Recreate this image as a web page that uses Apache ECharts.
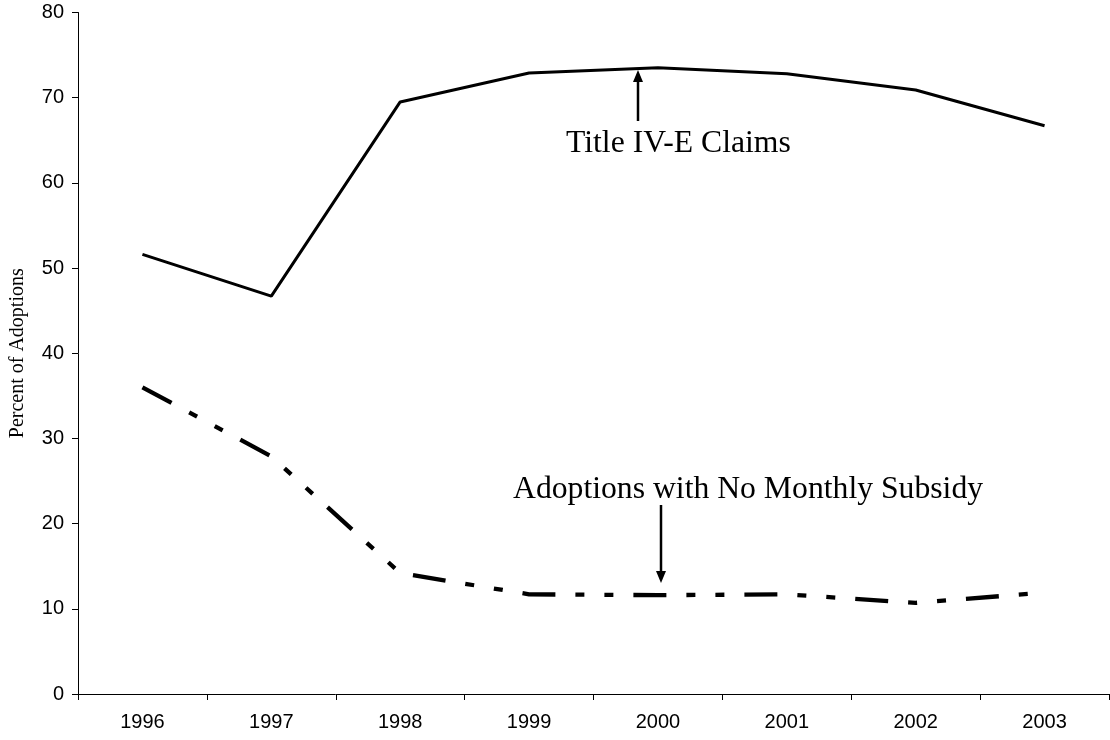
<!DOCTYPE html>
<html>
<head>
<meta charset="utf-8">
<script src="https://cdn.jsdelivr.net/npm/echarts@6/dist/echarts.min.js"></script>
<style>
  html, body { margin: 0; padding: 0; background: #fff; }
  #main { width: 1110px; height: 740px; }
</style>
</head>
<body>
<div id="main"></div>
<script>
var years = ['1996', '1997', '1998', '1999', '2000', '2001', '2002', '2003']
var titleIVE = [51.6, 46.7, 69.5, 72.9, 73.5, 72.8, 70.9, 66.7]
var noSubsidy = [36.0, 27.9, 14.2, 11.7, 11.6, 11.7, 10.7, 11.9]
var yTicks = { min: 0, max: 80, step: 10 }

var serif = '"Liberation Serif", "Times New Roman", serif'
var sans = '"Liberation Sans", Arial, sans-serif'

var myChart = echarts.init(document.getElementById('main'))

// arrow = shaft + little triangle head
function arrow (x, y1, y2, up) {
  var tip = up ? y1 : y2
  var base = up ? tip + 12 : tip - 12
  return [
    {
      type: 'line',
      shape: { x1: x, y1: up ? base : y1, x2: x, y2: up ? y2 : base },
      style: { stroke: '#000', lineWidth: 2.5 }
    },
    {
      type: 'polygon',
      shape: { points: [[x, tip], [x - 5, base], [x + 5, base]] },
      style: { fill: '#000' }
    }
  ]
}

var option = {
  animation: false,
  backgroundColor: '#fff',
  grid: { left: 75, right: 1, top: 12.5, bottom: 46 },
  xAxis: {
    type: 'category',
    data: years,
    boundaryGap: true,
    axisLine: { lineStyle: { color: '#000', width: 1 } },
    axisTick: { show: true, length: 6, lineStyle: { color: '#000' } },
    axisLabel: { color: '#000', fontFamily: sans, fontSize: 20, margin: 18 }
  },
  yAxis: {
    type: 'value',
    min: yTicks.min,
    max: yTicks.max,
    interval: yTicks.step,
    name: 'Percent of Adoptions',
    nameLocation: 'middle',
    nameGap: 50,
    nameRotate: 90,
    nameTextStyle: { color: '#000', fontFamily: serif, fontSize: 20 },
    axisLine: { show: true, lineStyle: { color: '#000', width: 1 } },
    axisTick: { show: true, length: 6, lineStyle: { color: '#000' } },
    axisLabel: { color: '#000', fontFamily: sans, fontSize: 20, margin: 14 },
    splitLine: { show: false }
  },
  series: [
    {
      name: 'Title IV-E Claims',
      type: 'line',
      data: titleIVE,
      symbol: 'none',
      lineStyle: { color: '#000', width: 3 }
    },
    {
      name: 'Adoptions with No Monthly Subsidy',
      type: 'line',
      data: noSubsidy,
      symbol: 'none',
      lineStyle: { color: '#000', width: 4.3, type: [33, 20, 9, 20, 9, 20], cap: 'butt' }
    }
  ],
  graphic: [
    {
      type: 'text',
      left: 566,
      top: 128,
      style: { text: 'Title IV-E Claims', fill: '#000', font: '31.7px ' + serif }
    },
    {
      type: 'text',
      left: 513,
      top: 474,
      style: { text: 'Adoptions with No Monthly Subsidy', fill: '#000', font: '31.7px ' + serif }
    }
  ].concat(arrow(638, 70, 121, true), arrow(661, 505, 583, false))
}

myChart.setOption(option)
</script>
</body>
</html>
